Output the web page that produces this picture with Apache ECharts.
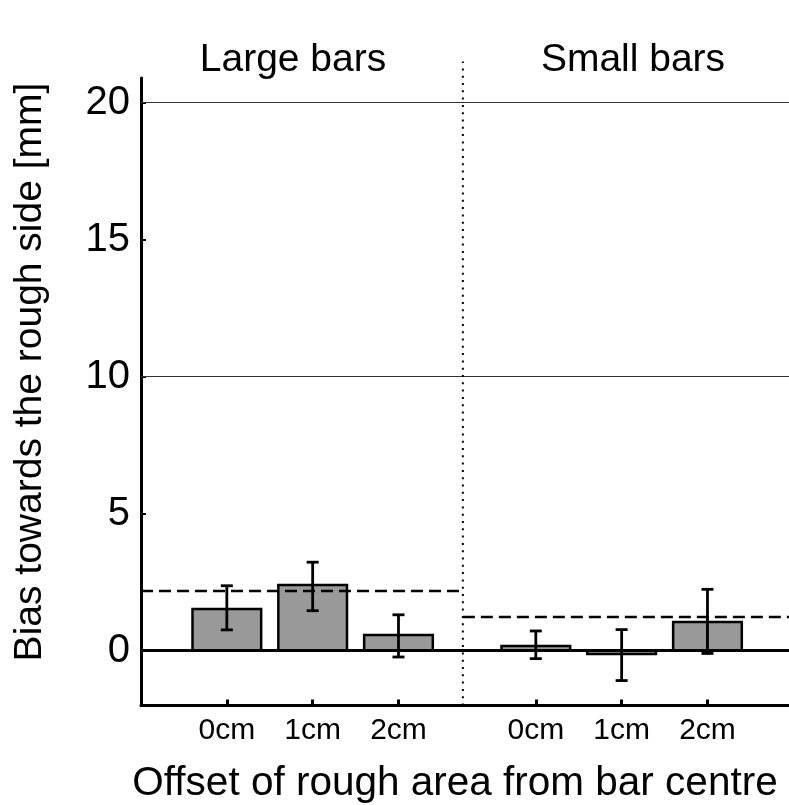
<!DOCTYPE html>
<html>
<head>
<meta charset="utf-8">
<script src="https://cdn.jsdelivr.net/npm/echarts@6/dist/echarts.min.js"></script>
<style>
html,body{margin:0;padding:0;background:#fff;}
#chart{width:789px;height:805px;}
</style>
</head>
<body>
<div id="chart"></div>
<script>
// ---- data ----
const categories = ['0cm', '1cm', '2cm', '0cm', '1cm', '2cm'];
const positions = [1, 2, 3, 4.6, 5.6, 6.6];
const means = [1.52, 2.40, 0.57, 0.17, -0.12, 1.05];
const errLow = [0.76, 1.46, -0.23, -0.29, -1.09, -0.10];
const errHigh = [2.37, 3.23, 1.31, 0.72, 0.77, 2.24];
const groupNames = ['Large bars', 'Small bars'];
const groupMeanLarge = 2.18;
const groupMeanSmall = 1.23;
const groupSplit = 3.75;
const xMin = 0, xMax = 7.55;
const yMin = -2, yMax = 20.9;
const yTicks = [0, 5, 10, 15, 20];
const gridLineValues = [10, 20];
const dividerTop = 21.5;

const FONT = "'Liberation Sans', Arial, Helvetica, sans-serif";
const chart = echarts.init(document.getElementById('chart'), null, {renderer: 'canvas'});

const barData = positions.map((p, i) => [p, means[i]]);
const errData = positions.map((p, i) => [p, errLow[i], errHigh[i]]);

const option = {
  animation: false,
  backgroundColor: '#fff',
  grid: {left: 141, right: 0, top: 78, bottom: 99.5, containLabel: false},
  xAxis: {
    type: 'value', min: xMin, max: xMax,
    axisLine: {show: true, onZero: false, lineStyle: {color: '#000', width: 3}},
    axisTick: {show: true, inside: true, length: 6, lineStyle: {color: '#000', width: 3}, customValues: positions},
    axisLabel: {
      show: true, customValues: positions, margin: 10,
      fontSize: 30, color: '#000', fontFamily: FONT,
      formatter: function (v) {
        const idx = positions.findIndex(p => Math.abs(p - v) < 1e-6);
        return idx >= 0 ? categories[idx] : '';
      }
    },
    splitLine: {show: false}
  },
  yAxis: {
    type: 'value', min: yMin, max: yMax,
    axisLine: {show: true, onZero: false, lineStyle: {color: '#000', width: 3}},
    axisTick: {show: true, inside: true, length: 5, lineStyle: {color: '#000', width: 2}, customValues: yTicks},
    axisLabel: {show: true, customValues: yTicks, margin: 11, fontSize: 40, color: '#000', fontFamily: FONT},
    splitLine: {show: false}
  },
  series: [
    {
      type: 'line', data: [], silent: true,
      markLine: {
        silent: true, symbol: 'none', label: {show: false},
        lineStyle: {color: '#333', width: 1.2, type: 'solid'},
        data: gridLineValues.map(v => ({yAxis: v}))
      }
    },
    {
      type: 'custom', silent: true, z: 3,
      data: barData,
      renderItem: function (params, api) {
        const x = api.value(0), v = api.value(1);
        const p1 = api.coord([x - 0.4, v]);
        const p2 = api.coord([x + 0.4, 0]);
        return {
          type: 'rect',
          shape: {x: p1[0], y: Math.min(p1[1], p2[1]), width: p2[0] - p1[0], height: Math.abs(p2[1] - p1[1])},
          style: {fill: '#999999', stroke: '#000', lineWidth: 2.5}
        };
      }
    },
    {
      type: 'line', data: [], silent: true, z: 4,
      markLine: {
        silent: true, symbol: 'none', label: {show: false},
        lineStyle: {color: '#000', width: 3, type: 'solid'},
        data: [{yAxis: 0}]
      }
    },
    {
      type: 'line', silent: true, z: 5, symbol: 'none',
      data: [[xMin, groupMeanLarge], [groupSplit, groupMeanLarge]],
      lineStyle: {color: '#000', width: 2.5, type: [12, 6]}
    },
    {
      type: 'line', silent: true, z: 5, symbol: 'none',
      data: [[groupSplit, groupMeanSmall], [xMax, groupMeanSmall]],
      lineStyle: {color: '#000', width: 2.5, type: [12, 6]}
    },
    {
      type: 'line', silent: true, z: 5, symbol: 'none', clip: false,
      data: [[groupSplit, yMin], [groupSplit, dividerTop]],
      lineStyle: {color: '#000', width: 2, type: [2, 5.3]}
    },
    {
      type: 'custom', silent: true, z: 6,
      data: errData,
      renderItem: function (params, api) {
        const x = api.value(0);
        const lo = api.coord([x, api.value(1)]);
        const hi = api.coord([x, api.value(2)]);
        const cw = 6;
        const st = {stroke: '#000', lineWidth: 2.8};
        return {
          type: 'group',
          children: [
            {type: 'line', shape: {x1: lo[0], y1: lo[1], x2: hi[0], y2: hi[1]}, style: st},
            {type: 'line', shape: {x1: lo[0] - cw, y1: lo[1], x2: lo[0] + cw, y2: lo[1]}, style: st},
            {type: 'line', shape: {x1: hi[0] - cw, y1: hi[1], x2: hi[0] + cw, y2: hi[1]}, style: st}
          ]
        };
      }
    }
  ],
  graphic: [
    {type: 'text', x: 293, y: 60, style: {text: groupNames[0], fontSize: 39, fontFamily: FONT, fill: '#000', align: 'center', verticalAlign: 'middle'}},
    {type: 'text', x: 633, y: 60, style: {text: groupNames[1], fontSize: 39, fontFamily: FONT, fill: '#000', align: 'center', verticalAlign: 'middle'}},
    {type: 'text', x: 455, y: 784, style: {text: 'Offset of rough area from bar centre', fontSize: 40.5, fontFamily: FONT, fill: '#000', align: 'center', verticalAlign: 'middle'}},
    {type: 'text', x: 30, y: 372, rotation: Math.PI / 2, style: {text: 'Bias towards the rough side [mm]', fontSize: 39, fontFamily: FONT, fill: '#000', align: 'center', verticalAlign: 'middle'}}
  ]
};
chart.setOption(option);
</script>
</body>
</html>
